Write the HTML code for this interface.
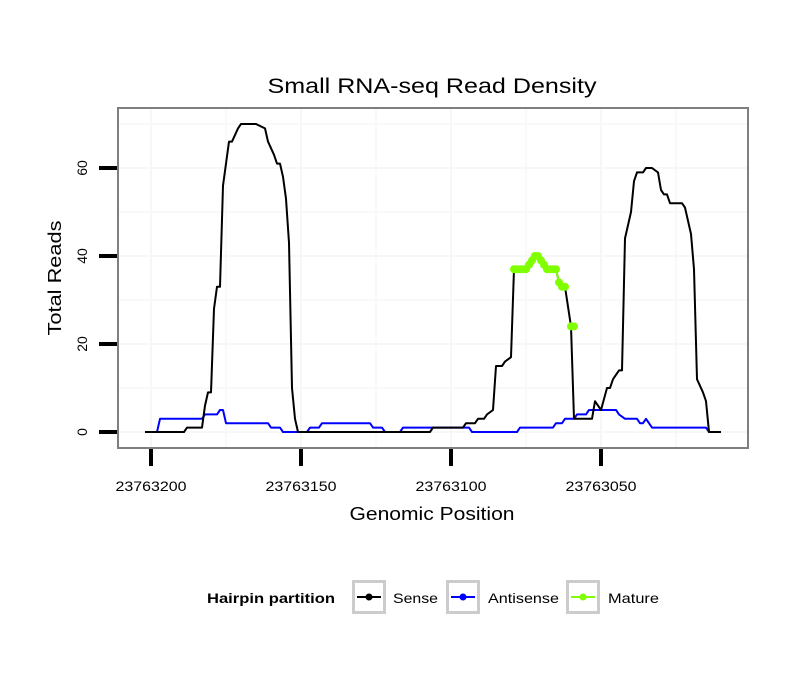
<!DOCTYPE html>
<html><head><meta charset="utf-8"><style>
body{margin:0;background:#fff;}
svg text{font-family:"Liberation Sans",sans-serif;}
</style></head><body>
<svg id="chart" width="810" height="690" xmlns="http://www.w3.org/2000/svg">
<rect x="0" y="0" width="810" height="690" fill="#fff"/>
<text x="432" y="93" font-size="21" text-anchor="middle" textLength="329" lengthAdjust="spacingAndGlyphs" fill="#000">Small RNA-seq Read Density</text>
<g id="grid"></g>
<g id="series"></g>
<rect x="118" y="108" width="630" height="340" fill="none" stroke="#7f7f7f" stroke-width="2"/>
<g id="axes"></g>
<text x="432" y="520" font-size="18" text-anchor="middle" textLength="165" lengthAdjust="spacingAndGlyphs">Genomic Position</text>
<text transform="translate(61,278) rotate(-90)" font-size="18" text-anchor="middle" textLength="115" lengthAdjust="spacingAndGlyphs">Total Reads</text>
<g>
<text x="207" y="603" font-size="14" font-weight="bold" textLength="128" lengthAdjust="spacingAndGlyphs">Hairpin partition</text>
<g>
<rect x="353.5" y="581.5" width="31" height="31" fill="#fff" stroke="#ccc" stroke-width="3"/>
<line x1="357" y1="597" x2="381" y2="597" stroke="#000" stroke-width="2"/><circle cx="369" cy="597" r="3.5" fill="#000"/>
<text x="393" y="603" font-size="14" textLength="45" lengthAdjust="spacingAndGlyphs">Sense</text></g>
<g>
<rect x="447.5" y="581.5" width="31" height="31" fill="#fff" stroke="#ccc" stroke-width="3"/>
<line x1="451" y1="597" x2="475" y2="597" stroke="#0000ff" stroke-width="2"/><circle cx="463" cy="597" r="3.5" fill="#0000ff"/>
<text x="488" y="603" font-size="14" textLength="71" lengthAdjust="spacingAndGlyphs">Antisense</text></g>
<g>
<rect x="567.5" y="581.5" width="31" height="31" fill="#fff" stroke="#ccc" stroke-width="3"/>
<line x1="571" y1="597" x2="595" y2="597" stroke="#7fff00" stroke-width="2"/><circle cx="583" cy="597" r="3.5" fill="#7fff00"/>
<text x="608" y="603" font-size="14" textLength="51" lengthAdjust="spacingAndGlyphs">Mature</text></g>
</g>
</svg>
<script>
const xTicks = [23763200, 23763150, 23763100, 23763050];
const yTicks = [0, 20, 40, 60];
const senseOffsets = [202,189,188,183,182,181,180,179,178,177,176,175,174,173,171,170,165,162,161,159,158,157,156,155,154,153,152,151,107,106,96,95,92,91,89,88,86,85,83,82,80,79,75,73,72,70,69,68,65,64,62,60,59,53,52,50,48,47,46,44,43,42,40,39,38,36,35,33,31,30,29,28,27,23,22,20,19,18,16,15,14,10];
const senseValues = [0,0,1,1,6,9,9,28,33,33,56,61,66,66,69,70,70,69,66,63,61,61,58,53,43,10,3,0,0,1,1,2,2,3,3,4,5,15,15,16,17,37,37,38,40,39,38,37,37,34,33,24,3,3,7,5,10,10,12,14,14,44,50,57,59,59,60,60,59,55,54,54,52,52,51,45,37,12,9,7,0,0];
const antiOffsets = [202,198,197,183,182,178,177,176,175,161,160,157,156,148,147,144,143,127,126,123,122,117,116,94,93,78,77,66,65,63,62,59,58,55,54,45,44,42,38,37,36,35,33,15,14,10];
const antiValues = [0,0,3,3,4,4,5,5,2,2,1,1,0,0,1,1,2,2,1,1,0,0,1,1,0,0,1,1,2,2,3,3,4,4,5,5,4,3,3,2,2,3,1,1,0,0];
const matureOffsets = [79,78,77,76,75,74,73,72,71,70,69,68,67,66,65,64,63,62,60,59];
const matureValues = [37,37,37,37,37,38,39,40,40,39,38,37,37,37,37,34,33,33,24,24];
const BASE = 23763000;

const NS = 'http://www.w3.org/2000/svg';
const xScale = p => 151 + (23763200 - p) * 3;
const yScale = v => 432 - v * 4.4;
function mk(tag, attrs, parent){const e=document.createElementNS(NS,tag);for(const k in attrs)e.setAttribute(k,attrs[k]);parent.appendChild(e);return e;}
const grid=document.getElementById('grid'), axes=document.getElementById('axes'), series=document.getElementById('series');

for(let v=-10; v<=70; v+=10){const y=yScale(v); if(y<109||y>447) continue;
 const l=mk('line',{x1:119,x2:747,y1:y,y2:y,stroke:'#f7f7f7','stroke-width':v%20===0?2:1.5},grid);
 
 }
for(let p=23763225; p>=23763000; p-=25){const x=xScale(p); if(x<119||x>747) continue;
 const l=mk('line',{x1:x,x2:x,y1:109,y2:447,stroke:'#f7f7f7','stroke-width':p%50===0?2:1.5},grid);
 
 }

xTicks.forEach(t=>{const x=xScale(t);
 const l=mk('line',{x1:x,x2:x,y1:449,y2:466,stroke:'#000','stroke-width':4},axes);
 
 
 const tx=mk('text',{x:x,y:491,'font-size':14,'text-anchor':'middle',textLength:71,lengthAdjust:'spacingAndGlyphs'},axes); tx.textContent=t;
 
 });
yTicks.forEach(t=>{const y=yScale(t);
 const l=mk('line',{x1:99,x2:117,y1:y,y2:y,stroke:'#000','stroke-width':4},axes);
 
 
 const tx=mk('text',{transform:`translate(87,${y}) rotate(-90)`,'font-size':14,'text-anchor':'middle'},axes); tx.textContent=t;
 
 });

function pts(offs, vals){return offs.map((o,i)=>xScale(BASE+o)+','+yScale(vals[i])).join(' ');}
const a=mk('polyline',{points:pts(antiOffsets,antiValues),fill:'none',stroke:'#0000ff','stroke-width':2,'stroke-linejoin':'round'},series);


const s=mk('polyline',{points:pts(senseOffsets,senseValues),fill:'none',stroke:'#000','stroke-width':2,'stroke-linejoin':'round'},series);


const m=mk('polyline',{points:pts(matureOffsets.slice(0,18),matureValues.slice(0,18)),fill:'none',stroke:'#7fff00','stroke-width':2},series);


matureOffsets.forEach((o,i)=>{const c=mk('circle',{cx:xScale(BASE+o),cy:yScale(matureValues[i]),r:4,fill:'#7fff00'},series);
 
 });
</script>
</body></html>
